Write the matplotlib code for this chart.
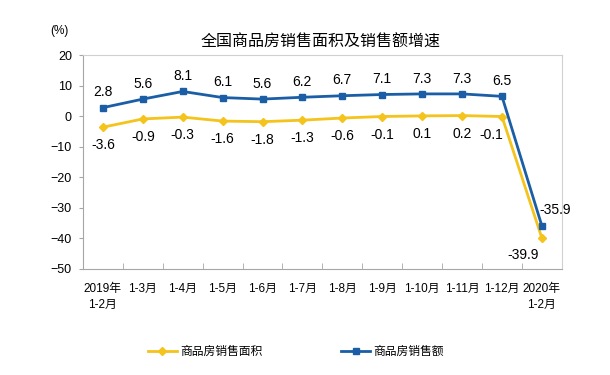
import numpy as np
import matplotlib
matplotlib.use("Agg")
import matplotlib.pyplot as plt

plt.rcParams['font.family'] = ['Liberation Sans', 'Noto Sans CJK SC', 'DejaVu Sans']

categories = ["2019年\n1-2月", "1-3月", "1-4月", "1-5月", "1-6月", "1-7月", "1-8月",
              "1-9月", "1-10月", "1-11月", "1-12月", "2020年\n1-2月"]
area_growth = [-3.6, -0.9, -0.3, -1.6, -1.8, -1.3, -0.6, -0.1, 0.1, 0.2, -0.1, -39.9]
sales_growth = [2.8, 5.6, 8.1, 6.1, 5.6, 6.2, 6.7, 7.1, 7.3, 7.3, 6.5, -35.9]

yellow = "#F4C31C"
blue = "#1B5EA6"
grey = "#A6A6A6"

fig = plt.figure(figsize=(6.1, 3.75), dpi=100)
ax = fig.add_axes([0.136, 0.283, 0.785, 0.570])
x = np.arange(len(categories))

ax.plot(x, area_growth, color=yellow, lw=2, marker="D", ms=4.5, label="商品房销售面积")
ax.plot(x, sales_growth, color=blue, lw=2, marker="s", ms=5, label="商品房销售额")

last = len(x) - 1
for i, v in enumerate(sales_growth):
    if i == last:
        ax.annotate(f"{v:.1f}", (i, v), xytext=(-2, 6), textcoords="offset points",
                    ha="left", va="bottom", fontsize=10)
    else:
        ax.annotate(f"{v:.1f}", (i, v), xytext=(0, 6), textcoords="offset points",
                    ha="center", va="bottom", fontsize=10)
for i, v in enumerate(area_growth):
    if i == last:
        ax.annotate(f"{v:.1f}", (i, v), xytext=(-2, -7), textcoords="offset points",
                    ha="right", va="top", fontsize=10)
    elif i == last - 1:
        ax.annotate(f"{v:.1f}", (i, v), xytext=(-8, -8), textcoords="offset points",
                    ha="center", va="top", fontsize=10)
    else:
        ax.annotate(f"{v:.1f}", (i, v), xytext=(0, -8), textcoords="offset points",
                    ha="center", va="top", fontsize=10)

ax.set_xlim(-0.5, len(x) - 0.5)
ax.set_ylim(-50, 20)
ax.set_yticks(np.arange(-50, 21, 10))
ax.tick_params(axis="y", labelsize=9, length=3, color=grey, pad=5)
ax.set_xticks(x)
ax.set_xticklabels(categories, fontsize=8.5, linespacing=1.45)
ax.tick_params(axis="x", length=0, pad=10)
ax.set_xticks(np.arange(0.5, len(x) - 0.5), minor=True)
ax.tick_params(axis="x", which="minor", direction="in", length=4, color=grey)

for s in ax.spines.values():
    s.set_color(grey)
    s.set_linewidth(0.8)
ax.spines["top"].set_color("#D0D0D0")
ax.spines["right"].set_color("#D0D0D0")

fig.text(0.526, 0.888, "全国商品房销售面积及销售额增速", ha="center", va="center", fontsize=11.5)
fig.text(0.098, 0.917, "(%)", ha="center", va="center", fontsize=8.5)

ax.legend(loc="center", bbox_to_anchor=(0.445, -0.39), ncol=2, frameon=False,
          fontsize=8.5, handlelength=2.4, handletextpad=0.3, columnspacing=6.7)

fig.savefig("out.png", dpi=100)
